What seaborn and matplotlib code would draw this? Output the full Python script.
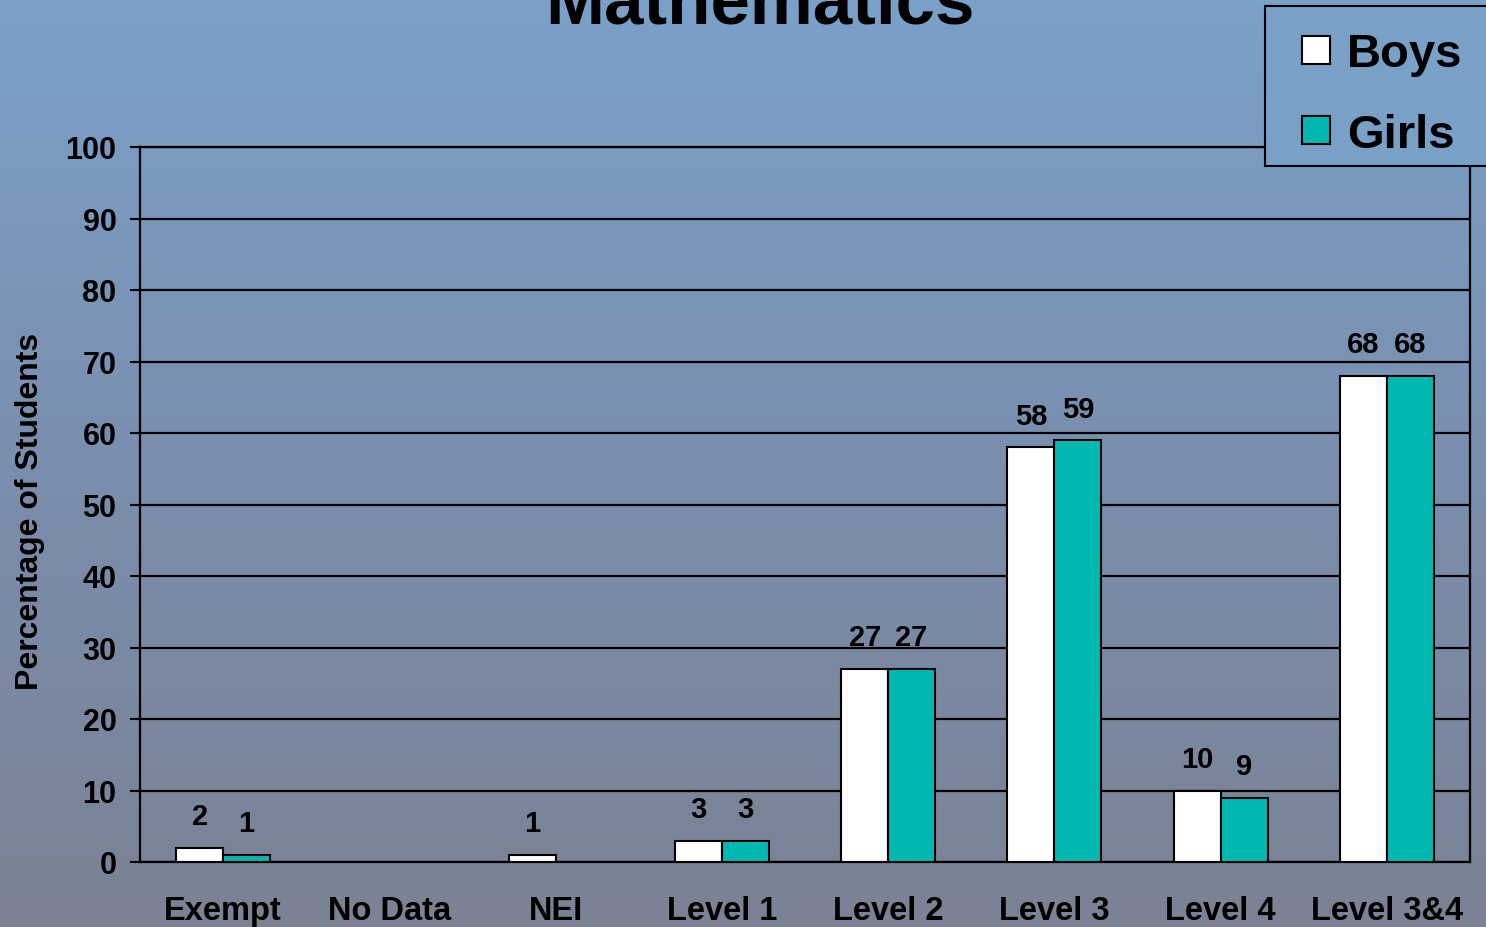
import numpy as np
import pandas as pd
import matplotlib
matplotlib.use("Agg")
import matplotlib.pyplot as plt
from matplotlib.colors import LinearSegmentedColormap
from matplotlib.patches import Patch, Rectangle
from matplotlib.legend_handler import HandlerPatch
import seaborn as sns

categories = ["Exempt", "No Data", "NEI", "Level 1", "Level 2", "Level 3", "Level 4", "Level 3&4"]
boys = [2, np.nan, 1, 3, 27, 58, 10, 68]
girls = [1, np.nan, np.nan, 3, 27, 59, 9, 68]
series_names = ["Boys", "Girls"]
yticks = [0, 10, 20, 30, 40, 50, 60, 70, 80, 90, 100]

sns.set_theme(style="white")
plt.rcParams["font.family"] = ["Liberation Sans", "DejaVu Sans"]
plt.rcParams["font.weight"] = "bold"
for k in ["text.color", "axes.labelcolor", "xtick.color", "ytick.color"]:
    plt.rcParams[k] = "black"

df = pd.DataFrame({
    "category": categories * 2,
    "value": boys + girls,
    "series": [series_names[0]] * len(categories) + [series_names[1]] * len(categories),
})

colors = {"Boys": "#FFFFFF", "Girls": "#00B8B0"}

W, H = 1486, 928
fig = plt.figure(figsize=(W / 100, H / 100), dpi=100)

# gradient background
bg = fig.add_axes([0, 0, 1, 1], zorder=-10)
cmap = LinearSegmentedColormap.from_list("bg", ["#7AA1C9", "#7A8EAE", "#7B8293"])
grad = np.linspace(0, 1, 256).reshape(-1, 1)
bg.imshow(grad, aspect="auto", cmap=cmap, extent=[0, 1, 0, 1], origin="upper")
bg.set_axis_off()

left, right, top, bottom = 140, 1470, 148, 863
ax = fig.add_axes([left / W, 1 - bottom / H, (right - left) / W, (bottom - top) / H])
ax.set_facecolor("none")

sns.barplot(data=df, x="category", y="value", hue="series", order=categories,
            hue_order=series_names, palette=colors, saturation=1, width=0.565, gap=0,
            edgecolor="black", linewidth=1.5, ax=ax, legend=False, zorder=3)

ax.set_xlim(-0.5, len(categories) - 0.5)
ax.set_ylim(0, 100)
ax.set_yticks(yticks)
ax.set_yticklabels([str(t) for t in yticks], fontsize=22, fontweight="bold")
ax.set_xticks(range(len(categories)))
ax.set_xticklabels(categories, fontsize=23.5, fontweight="bold")
ax.set_xticks(np.arange(-0.5, len(categories), 1), minor=True)
ax.tick_params(axis="x", which="major", length=0, pad=24, colors="black")
ax.tick_params(axis="x", which="minor", length=8, width=1.5, direction="out", color="black")
ax.tick_params(axis="y", which="major", length=7, width=1.5, direction="out", pad=10, colors="black", left=True)
ax.set_xlabel("")
ax.set_ylabel("")

ax.grid(axis="y", color="black", linewidth=1.6)
ax.grid(axis="x", visible=False)
ax.set_axisbelow(True)
for s in ["left", "bottom", "right", "top"]:
    ax.spines[s].set_visible(True)
    ax.spines[s].set_color("black")
    ax.spines[s].set_linewidth(1.6)

# value labels
for cont in ax.containers:
    for bar in cont:
        h = bar.get_height()
        if h is None or np.isnan(h):
            continue
        ax.annotate(f"{h:g}", (bar.get_x() + bar.get_width() / 2, h),
                    xytext=(0, 17), textcoords="offset points",
                    ha="center", va="baseline", fontsize=21, fontweight="bold",
                    color="black", zorder=5)

fig.text(30 / W, 1 - 511.5 / H, "Percentage of Students", rotation=90,
         ha="center", va="center", fontsize=23, fontweight="bold", color="black")

fig.text(760 / W, 1 - 24 / H, "Mathematics", ha="center", va="baseline",
         fontsize=51, fontweight="bold", color="black")

# legend frame (opaque, runs off the right edge as in the reference)
fig.patches.append(Rectangle((1265 / W, 1 - 167 / H), (1520 - 1265) / W, (167 - 7) / H,
                             transform=fig.transFigure, facecolor="#79A0C7",
                             edgecolor="black", linewidth=1.5, zorder=5))

# legend: square handle drawn at the right part of a wider handle box
LEG_FS = 34
sq = 0.593
shift = 0.34


def square_patch(legend, orig_handle, xdescent, ydescent, width, height, fontsize):
    s = sq * fontsize
    return Rectangle((-xdescent + shift * fontsize, -ydescent + (height - s) / 2), s, s)


handles = [Patch(facecolor=colors[n], edgecolor="black", linewidth=1.5, label=n) for n in series_names]
leg = fig.legend(handles=handles, loc="upper left", bbox_to_anchor=(1265 / W, 1 - 12 / H),
                 bbox_transform=fig.transFigure, frameon=False,
                 handlelength=sq + shift, handleheight=sq, handletextpad=0.36,
                 borderpad=0.45, labelspacing=0.77, borderaxespad=0,
                 prop={"weight": "bold", "size": LEG_FS}, labelcolor="black",
                 handler_map={Patch: HandlerPatch(patch_func=square_patch)})
leg.set_zorder(6)

fig.savefig("out.png", dpi=100)
